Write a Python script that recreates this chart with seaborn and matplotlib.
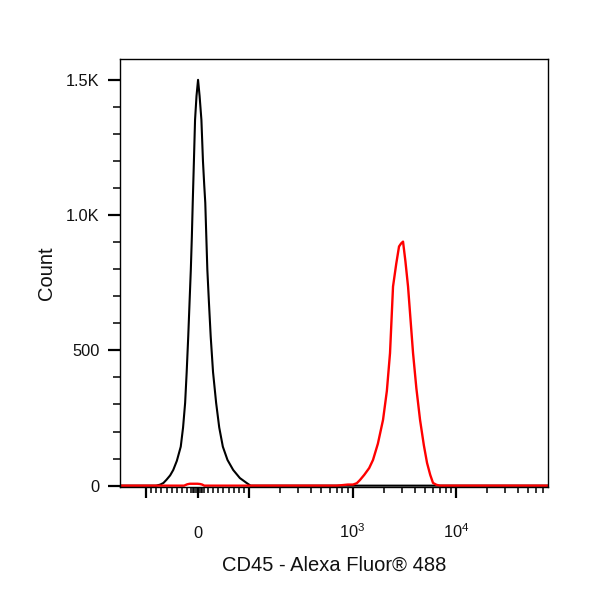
import numpy as np
import seaborn as sns
from matplotlib import pyplot as plt
from matplotlib.ticker import FixedLocator, MultipleLocator

# Histogram outlines (x in fluorescence units, y in counts)
unstained_x = [-178, -80, -72, -66, -60, -53, -47, -40, -32.5, -28, -24, -21,
               -18, -15.5, -13, -11, -9.3, -7, -4.8, -2, 1,
               4, 7.5, 10.5, 13, 15, 17, 19, 22, 25.5, 30, 36, 42, 49, 58, 69,
               82, 95, 103, 78000]
unstained_count = [0, 0, 4, 10, 22, 38, 58, 92, 144, 215, 306, 420,
                   551, 675, 798, 920, 1045, 1200, 1352, 1440, 1500,
                   1440, 1352, 1200, 1110, 1045, 920, 798, 680, 551, 420, 306, 215, 144, 95, 58,
                   28, 10, 0, 0]

cd45_x = [-178, -26, -20, -15, -8, 0, 5, 9, 13, 700, 800, 900, 1011, 1100, 1182,
          1300, 1450, 1579, 1760, 1974, 2150, 2307, 2467, 2650, 2820, 2950, 3083,
          3250, 3447, 3650, 3854, 4150, 4505, 4900, 5265, 5650, 6015, 6500, 7031, 78000]
cd45_count = [0, 0, 5, 7, 7, 7, 6, 4, 0, 0, 2, 4, 4, 9, 21,
              40, 65, 95, 155, 243, 350, 490, 736, 820, 884, 895, 902,
              830, 736, 610, 490, 360, 243, 150, 84, 40, 10, 3, 0, 0]

x_major = [-100, 0, 100, 1000, 10000]
x_major_labels = ["", "0", "", "$10^3$", "$10^4$"]
x_minor = ([-90, -80, -70, -60, -50, -40, -30, -20, -12, -9, -6, -3,
            3, 6, 9, 12, 20, 30, 40, 50, 60, 70, 80, 90]
           + [200, 300, 400, 500, 600, 700, 800, 900]
           + [2000, 3000, 4000, 5000, 6000, 7000, 8000, 9000]
           + [20000, 30000, 40000, 50000, 60000, 70000])
y_major = [0, 500, 1000, 1500]
y_major_labels = ["0", "500", "1.0K", "1.5K"]

sns.set_style("white")
plt.rcParams['font.family'] = ['Liberation Sans', 'DejaVu Sans']
plt.rcParams['mathtext.fontset'] = 'custom'
plt.rcParams['mathtext.rm'] = 'Liberation Sans'
plt.rcParams['mathtext.it'] = 'Liberation Sans:italic'
plt.rcParams['mathtext.bf'] = 'Liberation Sans:bold'
plt.rcParams['text.color'] = '#111111'
plt.rcParams['axes.labelcolor'] = '#111111'

fig = plt.figure(figsize=(6, 6), dpi=100)
ax = fig.add_axes([0.2, 0.18833, 0.71333, 0.71333])

sns.lineplot(x=unstained_x, y=unstained_count, color="black", lw=1.5, ax=ax)
sns.lineplot(x=cd45_x, y=cd45_count, color="#ff0000", lw=1.7, ax=ax)
for ln in ax.lines:
    ln.set_solid_joinstyle("round")

ax.set_xscale("symlog", linthresh=100, linscale=0.45)
ax.set_xlim(-178, 78000)
ax.set_ylim(-5, 1577)

ax.xaxis.set_major_locator(FixedLocator(x_major))
ax.xaxis.set_minor_locator(FixedLocator(x_minor))
ax.set_xticklabels(x_major_labels)
ax.set_yticks(y_major)
ax.set_yticklabels(y_major_labels)
ax.yaxis.set_minor_locator(MultipleLocator(100))

ax.tick_params(axis="x", which="both", bottom=True, top=False)
ax.tick_params(axis="y", which="both", left=True, right=False)
ax.tick_params(axis="x", which="major", direction="out", length=8, width=1.6,
               pad=28.7, labelsize=11.8, colors="black", labelcolor="#111111")
ax.tick_params(axis="x", which="minor", direction="out", length=4, width=1.1, colors="black")
ax.tick_params(axis="y", which="major", direction="out", length=8.6, width=1.6,
               pad=6, labelsize=11.8, colors="black", labelcolor="#111111")
ax.tick_params(axis="y", which="minor", direction="out", length=5, width=1.1, colors="black")
for lbl in ax.get_xticklabels():
    lbl.set_verticalalignment("baseline")

for s in ax.spines.values():
    s.set_linewidth(1.0)
    s.set_color("black")

ax.set_xlabel("CD45 - Alexa Fluor® 488", fontsize=14.5)
ax.set_ylabel("Count", fontsize=14.5)
ax.xaxis.set_label_coords(0.5, -0.161)
ax.yaxis.set_label_coords(-0.15, 0.5)

fig.savefig("out.png", dpi=100, facecolor="white")
